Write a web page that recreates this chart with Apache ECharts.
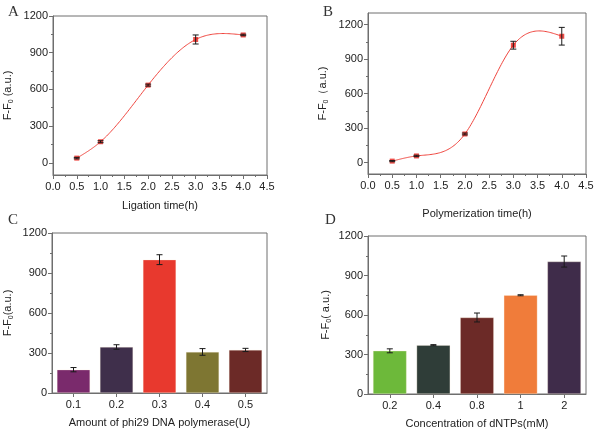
<!DOCTYPE html>
<html><head><meta charset="utf-8">
<script src="https://cdn.jsdelivr.net/npm/echarts@6/dist/echarts.min.js"></script>
<style>html,body{margin:0;padding:0;background:#fff}#c{width:600px;height:433px}</style>
</head><body><div id="c"></div>
<script>
// Panel A
const ligationTime = [0.5, 1.0, 2.0, 3.0, 4.0];
const ligationVal = [38, 172, 635, 1008, 1045];
const ligationErr = [6, 8, 8, 37, 6];
// Panel B
const polyTime = [0.5, 1.0, 2.0, 3.0, 4.0];
const polyVal = [12, 57, 248, 1020, 1098];
const polyErr = [5, 6, 8, 34, 77];
// Panel C
const enzymeCats = ['0.1', '0.2', '0.3', '0.4', '0.5'];
const enzymeVal = [175, 345, 1000, 308, 323];
const enzymeErr = [16, 17, 37, 25, 12];
const enzymeColors = ['#7A2A6C', '#3F2F4B', '#E8392E', '#7E7632', '#6C2A27'];
// Panel D
const dntpCats = ['0.2', '0.4', '0.8', '1', '2'];
const dntpVal = [328, 371, 581, 750, 1006];
const dntpErr = [15, 4, 34, 4, 42];
const dntpColors = ['#6DB93A', '#2F3D38', '#6C2A27', '#F07C3A', '#3F2C4A'];
// ticks
const yMajor = [0, 300, 600, 900, 1200];
const yMinor = [150, 450, 750, 1050];

const AX = '#6e6e6e';
const FONT = 'Arial';
const grids = [
  {left: 53, top: 16, width: 214, height: 159},
  {left: 368, top: 13, width: 218, height: 161},
  {left: 52, top: 233, width: 215, height: 160},
  {left: 368, top: 236, width: 218, height: 158}
].map(g => Object.assign({show: true, borderColor: AX, borderWidth: 1, backgroundColor: 'transparent', containLabel: false, outerBoundsMode: 'none'}, g));

const labelStyle = {color: '#222', fontFamily: FONT, fontSize: 11};
function yTitle(sep) {
  return {
    name: 'F-F{sub|0}' + sep + 'a.u.)',
    nameLocation: 'middle',
    nameRotate: 90,
    nameTextStyle: {color: '#222', fontFamily: FONT, fontSize: 11, lineHeight: 14,
      rich: {sub: {fontSize: 7, fontFamily: FONT, color: '#222', verticalAlign: 'bottom', lineHeight: 14, padding: [5, 0, 0, 0]}}}
  };
}
function yAxisMain(gi, min, max, gap, sep) {
  return Object.assign({
    type: 'value', gridIndex: gi, min: min, max: max,
    axisLine: {show: true, lineStyle: {color: AX}},
    axisTick: {show: true, length: 4, lineStyle: {color: AX}, customValues: yMajor},
    axisLabel: {show: true, customValues: yMajor, margin: 5, formatter: v => String(v), ...labelStyle},
    splitLine: {show: false},
    nameGap: gap
  }, yTitle(sep));
}
function yAxisMinor(gi, min, max) {
  return {
    type: 'value', gridIndex: gi, min: min, max: max, position: 'left',
    axisLine: {show: false},
    axisTick: {show: true, length: 2, lineStyle: {color: AX}, customValues: yMinor},
    axisLabel: {show: false}, splitLine: {show: false}
  };
}
function xValueAxis(gi, name, gap) {
  return {
    type: 'value', gridIndex: gi, min: 0, max: 4.5, interval: 0.5,
    axisLine: {show: true, onZero: false, lineStyle: {color: AX}},
    axisTick: {show: true, length: 4, lineStyle: {color: AX}},
    minorTick: {show: true, splitNumber: 2, length: 2, lineStyle: {color: AX}},
    axisLabel: {formatter: v => v.toFixed(1), margin: 6, ...labelStyle},
    splitLine: {show: false},
    name: name, nameLocation: 'middle', nameGap: gap,
    nameTextStyle: {color: '#222', fontFamily: FONT, fontSize: 11}
  };
}
function xCatAxis(gi, cats, name, gap) {
  return {
    type: 'category', gridIndex: gi, data: cats,
    axisLine: {show: true, onZero: false, lineStyle: {color: AX}},
    axisTick: {show: true, alignWithLabel: true, length: 4, lineStyle: {color: AX}},
    axisLabel: {margin: 6, ...labelStyle},
    splitLine: {show: false},
    name: name, nameLocation: 'middle', nameGap: gap,
    nameTextStyle: {color: '#222', fontFamily: FONT, fontSize: 11}
  };
}
function errRender(params, api) {
  const x = api.value(0), y = api.value(1), e = api.value(2);
  const hi = api.coord([x, y + e]);
  const lo = api.coord([x, y - e]);
  const w = 3;
  const st = {stroke: '#1a1a1a', lineWidth: 1};
  return {type: 'group', children: [
    {type: 'line', shape: {x1: hi[0], y1: hi[1], x2: lo[0], y2: lo[1]}, style: st},
    {type: 'line', shape: {x1: hi[0] - w, y1: hi[1], x2: hi[0] + w, y2: hi[1]}, style: st},
    {type: 'line', shape: {x1: lo[0] - w, y1: lo[1], x2: lo[0] + w, y2: lo[1]}, style: st}
  ]};
}
function errSeries(xi, yi, xs, vals, errs) {
  return {type: 'custom', xAxisIndex: xi, yAxisIndex: yi, renderItem: errRender, z: 5,
    data: vals.map((v, i) => [xs[i], v, errs[i]]), encode: {x: 0, y: 1}, silent: true};
}
// natural cubic spline through the data points, drawn as the fitted curve
function splineCoeffs(xs, ys) {
  const n = xs.length, h = [], a = [], b = [], c = [], d = [];
  for (let i = 0; i < n - 1; i++) h.push(xs[i + 1] - xs[i]);
  const M = new Array(n).fill(0);
  // tridiagonal solve for interior second derivatives
  const sub = [], diag = [], sup = [], rhs = [];
  for (let i = 1; i < n - 1; i++) {
    sub.push(h[i - 1]); diag.push(2 * (h[i - 1] + h[i])); sup.push(h[i]);
    rhs.push(6 * ((ys[i + 1] - ys[i]) / h[i] - (ys[i] - ys[i - 1]) / h[i - 1]));
  }
  const m = diag.length;
  for (let i = 1; i < m; i++) {
    const w = sub[i] / diag[i - 1];
    diag[i] -= w * sup[i - 1]; rhs[i] -= w * rhs[i - 1];
  }
  const sol = new Array(m);
  for (let i = m - 1; i >= 0; i--) sol[i] = (rhs[i] - (i < m - 1 ? sup[i] * sol[i + 1] : 0)) / diag[i];
  for (let i = 0; i < m; i++) M[i + 1] = sol[i];
  return {h, M};
}
function curveSeries(xi, yi, xs, ys) {
  return {type: 'custom', xAxisIndex: xi, yAxisIndex: yi, z: 3, silent: true,
    data: xs.map((x, i) => [x, ys[i]]), encode: {x: 0, y: 1},
    renderItem: function (params, api) {
      if (params.dataIndex !== 0) return null;
      const {h, M} = splineCoeffs(xs, ys);
      const pts = [];
      for (let i = 0; i < xs.length - 1; i++) {
        const steps = 40;
        for (let k = 0; k <= steps; k++) {
          const t = xs[i] + h[i] * k / steps;
          const A = (xs[i + 1] - t) / h[i], B = (t - xs[i]) / h[i];
          const y = A * ys[i] + B * ys[i + 1] + ((A * A * A - A) * M[i] + (B * B * B - B) * M[i + 1]) * h[i] * h[i] / 6;
          pts.push(api.coord([t, y]));
        }
      }
      return {type: 'polyline', shape: {points: pts}, style: {stroke: '#F0453E', lineWidth: 1, fill: null}};
    }};
}
function pointSeries(xi, yi, xs, vals) {
  return {type: 'scatter', xAxisIndex: xi, yAxisIndex: yi,
    data: xs.map((x, i) => [x, vals[i]]),
    symbol: 'rect', symbolSize: 5,
    itemStyle: {color: '#E8201A'}, z: 4, silent: true};
}
function barSeries(xi, yi, vals, colors) {
  return {type: 'bar', xAxisIndex: xi, yAxisIndex: yi, barWidth: '77%',
    data: vals.map((v, i) => ({value: v, itemStyle: {color: colors[i], borderColor: 'rgba(255,240,220,0.6)', borderWidth: 0.5}})), z: 2, silent: true};
}

const option = {
  animation: false,
  backgroundColor: '#fff',
  grid: grids,
  xAxis: [
    xValueAxis(0, 'Ligation time(h)', 25),
    xValueAxis(1, 'Polymerization time(h)', 34),
    xCatAxis(2, enzymeCats, 'Amount of phi29 DNA polymerase(U)', 24),
    xCatAxis(3, dntpCats, 'Concentration of dNTPs(mM)', 24)
  ],
  yAxis: [
    yAxisMain(0, -100, 1200, 38, ' ('),
    yAxisMain(1, -100, 1300, 38, '（'),
    yAxisMain(2, 0, 1200, 37, '('),
    yAxisMain(3, 0, 1200, 35, '( '),
    yAxisMinor(0, -100, 1200),
    yAxisMinor(1, -100, 1300),
    yAxisMinor(2, 0, 1200),
    yAxisMinor(3, 0, 1200)
  ],
  graphic: [
    {type: 'text', left: 8, top: 5, style: {text: 'A', font: '15px "Liberation Serif"', fill: '#333'}},
    {type: 'text', left: 323, top: 5, style: {text: 'B', font: '15px "Liberation Serif"', fill: '#333'}},
    {type: 'text', left: 8, top: 213, style: {text: 'C', font: '15px "Liberation Serif"', fill: '#333'}},
    {type: 'text', left: 325, top: 213, style: {text: 'D', font: '15px "Liberation Serif"', fill: '#333'}}
  ],
  series: [
    curveSeries(0, 0, ligationTime, ligationVal),
    pointSeries(0, 0, ligationTime, ligationVal),
    errSeries(0, 0, ligationTime, ligationVal, ligationErr),
    curveSeries(1, 1, polyTime, polyVal),
    pointSeries(1, 1, polyTime, polyVal),
    errSeries(1, 1, polyTime, polyVal, polyErr),
    barSeries(2, 2, enzymeVal, enzymeColors),
    errSeries(2, 2, [0, 1, 2, 3, 4], enzymeVal, enzymeErr),
    barSeries(3, 3, dntpVal, dntpColors),
    errSeries(3, 3, [0, 1, 2, 3, 4], dntpVal, dntpErr)
  ]
};
const chart = echarts.init(document.getElementById('c'), null, {renderer: 'canvas'});
chart.setOption(option);
</script></body></html>
